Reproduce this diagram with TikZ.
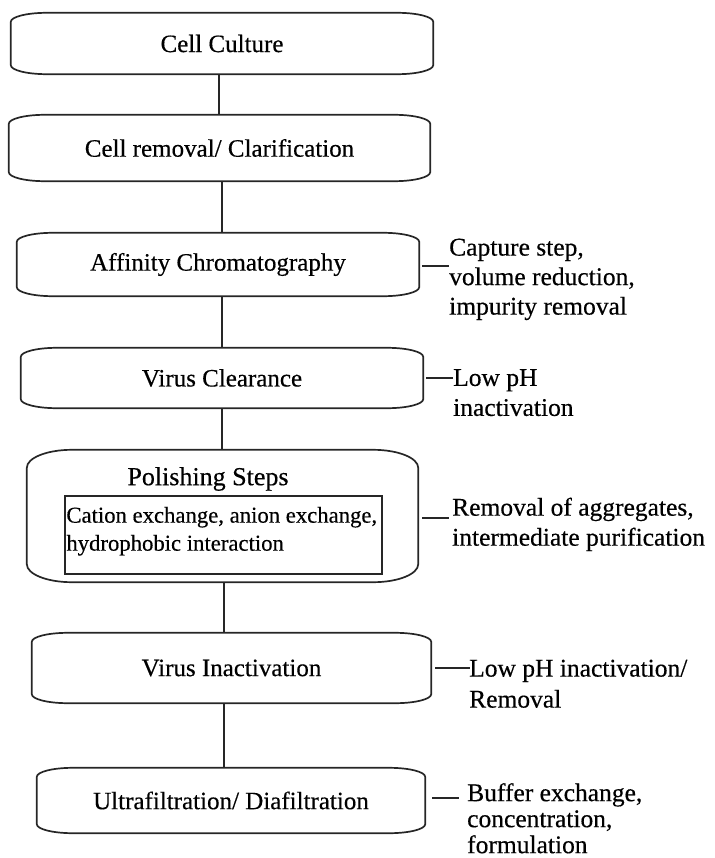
\documentclass[tikz,border=0pt]{standalone}
\usepackage{fontspec}
\setmainfont[FakeBold=0.4]{Liberation Serif}
\newcommand\ovalframe[3]{%
  \draw[boxline] ([xshift=#2]#1.north west) -- ([xshift=-#2]#1.north east)
    arc[start angle=90,end angle=0,x radius=#2,y radius=#3]
    -- ([yshift=#3]#1.south east)
    arc[start angle=0,end angle=-90,x radius=#2,y radius=#3]
    -- ([xshift=#2]#1.south west)
    arc[start angle=-90,end angle=-180,x radius=#2,y radius=#3]
    -- ([yshift=-#3]#1.north west)
    arc[start angle=180,end angle=90,x radius=#2,y radius=#3] -- cycle;}
\begin{document}
\begin{tikzpicture}[x=1pt,y=-1pt,
  boxline/.style={line width=1.7pt, black!85},
  conn/.style={line width=1.6pt, black!85},
  stepbox/.style={inner sep=0pt, font=\fontsize{25}{30}\selectfont},
  note/.style={anchor=north west, inner sep=0pt, align=left, font=\fontsize{25.5}{30}\selectfont}]
\path[use as bounding box] (0,0) rectangle (714,858);

% boxes
\node[stepbox, minimum width=422pt, minimum height=61pt] (cc) at (222,43.5) {Cell Culture};
\node[stepbox, minimum width=421pt, minimum height=66pt] (cr) at (219.5,148) {Cell removal/ Clarification};
\node[stepbox, minimum width=402pt, minimum height=63pt] (aff) at (218,264.5) {Affinity Chromatography};
\node[stepbox, minimum width=402pt, minimum height=60pt] (vc) at (222,378) {Virus Clearance};
\node[stepbox, minimum width=391pt, minimum height=132pt] (pol) at (222.5,516) {};
\node[stepbox, minimum width=399pt, minimum height=70pt] (vi) at (231.5,668) {Virus Inactivation};
\node[stepbox, minimum width=388pt, minimum height=65pt] (uf) at (231,800.5) {Ultrafiltration/ Diafiltration};

\ovalframe{cc}{36pt}{9pt}
\ovalframe{cr}{36pt}{9pt}
\ovalframe{aff}{36pt}{9pt}
\ovalframe{vc}{36pt}{9pt}
\ovalframe{pol}{45pt}{18pt}
\ovalframe{vi}{36pt}{9pt}
\ovalframe{uf}{36pt}{9pt}

% polishing contents
\node[inner sep=0pt, font=\fontsize{26}{30}\selectfont] (polt) at (208,479) {Polishing Steps};
\node[draw, line width=1.6pt, black!85, minimum width=317pt, minimum height=78pt, inner sep=0pt] (inr) at (223.5,535) {};
\node[anchor=north west, inner sep=0pt, align=left, font=\fontsize{22.7}{28}\selectfont]
  (inrt) at ([xshift=2pt,yshift=-11.5pt]inr.north west) {Cation exchange, anion exchange,\\hydrophobic interaction};

% connectors
\draw[conn] ([xshift=-3pt]cc.south) -- ([xshift=-3pt]cc.south |- cr.north);
\draw[conn] ([xshift=2.5pt]cr.south) -- ([xshift=2.5pt]cr.south |- aff.north);
\draw[conn] ([xshift=4pt]aff.south) -- ([xshift=4pt]aff.south |- vc.north);
\draw[conn] (vc.south) -- (vc.south |- pol.north);
\draw[conn] ([xshift=1.5pt]pol.south) -- ([xshift=1.5pt]pol.south |- vi.north);
\draw[conn] ([xshift=-7.5pt]vi.south) -- ([xshift=-7.5pt]vi.south |- uf.north);

% annotations
\node[note, font=\fontsize{25.5}{29.5}\selectfont] (capt) at (449,238.5) {Capture step,\\volume reduction,\\impurity removal};
\node[note] (lph) at (453,369) {Low pH\\inactivation};
\node[note] (rem) at (452,497.5) {Removal of aggregates,\\intermediate purification};
\node[note, font=\fontsize{25.5}{31}\selectfont] (lphr) at (469,659.5) {Low pH inactivation/\\Removal};
\node[note, font=\fontsize{25.5}{26}\selectfont] (buf) at (467,783) {Buffer exchange,\\concentration,\\formulation};

\draw[conn] ([xshift=3pt,yshift=-1.5pt]aff.east) -- ([yshift=-1.5pt]aff.east -| capt.west);
\draw[conn] ([xshift=3pt]vc.east) -- (vc.east -| lph.west);
\draw[conn] ([xshift=4pt,yshift=-2pt]pol.east) -- ([xshift=-3pt,yshift=-2pt]pol.east -| rem.west);
\draw[conn] ([xshift=4pt]vi.east) -- ([xshift=1pt]vi.east -| lphr.west);
\draw[conn] ([xshift=7pt,yshift=2.5pt]uf.east) -- ([xshift=-8pt,yshift=2.5pt]uf.east -| buf.west);
\end{tikzpicture}
\end{document}
